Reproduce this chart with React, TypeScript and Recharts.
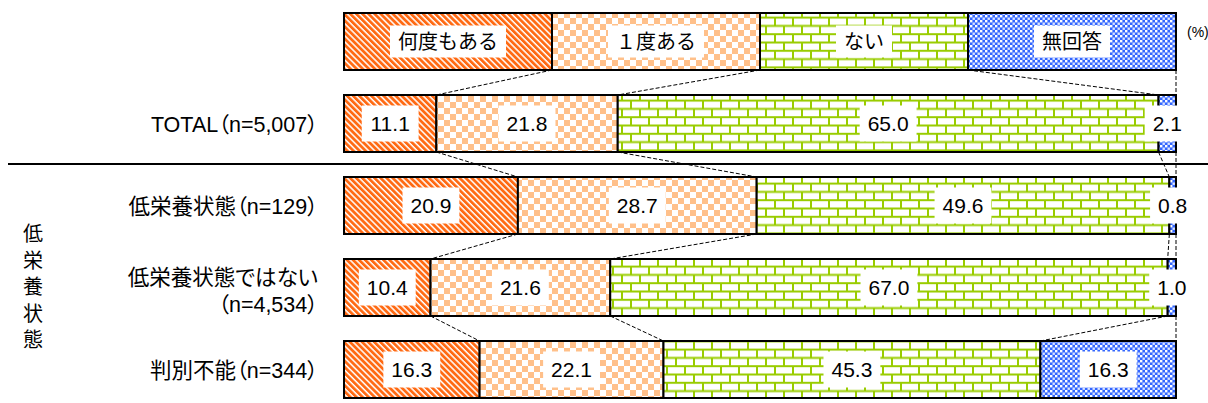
import { Bar, BarChart, LabelList, XAxis, YAxis } from 'recharts';

const seriesNames = ['何度もある', '１度ある', 'ない', '無回答'];
const rowLabels = [
  'TOTAL（n=5,007）',
  '低栄養状態（n=129）',
  '低栄養状態ではない\n（n=4,534）',
  '判別不能（n=344）',
];
const manyTimes = [11.1, 20.9, 10.4, 16.3];
const once = [21.8, 28.7, 21.6, 22.1];
const never = [65.0, 49.6, 67.0, 45.3];
const noAnswer = [2.1, 0.8, 1.0, 16.3];
const groupLabel = '低栄養状態';
const unitLabel = '(%)';

const KEYS = ['s0', 's1', 's2', 's3'];
const COLORS = ['#FF6A13', '#FFC08A', '#99CC00', '#3366FF'];
const FONT = "'Liberation Sans', 'Noto Sans CJK JP', sans-serif";

const W = 1208;
const H = 410;
const BAR = 57;

// top row is the legend drawn as an evenly split bar
const legendRow: any = { name: 'legend' };
KEYS.forEach((k) => (legendRow[k] = 100 / KEYS.length));

const data: any[] = [
  legendRow,
  ...rowLabels.map((name, i) => ({
    name,
    s0: manyTimes[i],
    s1: once[i],
    s2: never[i],
    s3: noAnswer[i],
  })),
];

const BAND = H / data.length;

const cum = (row: any, n: number) => KEYS.slice(0, n).reduce((s, k) => s + row[k], 0);

const textW = (s: string, fs: number) =>
  [...s].reduce((w, c) => {
    if (/[0-9]/.test(c)) return w + 0.556 * fs;
    if (c === '.' || c === ',') return w + 0.278 * fs;
    if (c.charCodeAt(0) < 128) return w + 0.6 * fs;
    return w + fs;
  }, 0);

const rowIndex = (props: any) => {
  const i = data.findIndex((d) => d.name === props?.payload?.name);
  return i >= 0 ? i : props.index;
};

const makeShape = (k: number) => (props: any) => {
  const { x, y, width, height } = props;
  const idx = rowIndex(props);
  const row = data[idx];
  const ppu = width / row[KEYS[k]];
  const x0 = x - cum(row, k) * ppu;
  let connector = null;
  if (idx < data.length - 1) {
    const next = data[idx + 1];
    connector = (
      <line
        x1={x + width}
        y1={y + height}
        x2={x0 + cum(next, k + 1) * ppu}
        y2={y + BAND}
        stroke="#000"
        strokeWidth={1}
        strokeDasharray="4 2"
      />
    );
  }
  return (
    <g>
      <rect x={x} y={y} width={width} height={height} fill={`url(#pat${k})`} stroke="#000" strokeWidth={2} />
      {connector}
    </g>
  );
};

const makeLabel = (k: number) => (p: any) => {
  const vb = p.viewBox || {};
  const x = Number(p.x ?? vb.x);
  const y = Number(p.y ?? vb.y);
  const width = Number(p.width ?? vb.width);
  const height = Number(p.height ?? vb.height);
  const idx = p.index;
  const isLegend = idx === 0;
  const text = isLegend ? seriesNames[k] : Number(data[idx][KEYS[k]]).toFixed(1);
  const fs = isLegend ? 20 : 21;
  const bw = textW(text, fs) + 16;
  const bh = isLegend ? 32 : 36;
  const cx = x + width / 2;
  const cy = y + height / 2;
  return (
    <g>
      <rect x={cx - bw / 2} y={cy - bh / 2} width={bw} height={bh} fill="#fff" />
      <text x={cx} y={cy} textAnchor="middle" dominantBaseline="central" fontSize={fs} fill="#000" fontFamily={FONT}>
        {text}
      </text>
    </g>
  );
};

const labelStyle = { fontFeatureSettings: '"palt"' };

const RowTick = (props: any) => {
  const { y, payload } = props;
  const name = payload.value;
  if (name === 'legend') {
    return (
      <text x={1187} y={y - 9} fontSize={14} fontFamily={FONT} dominantBaseline="central">
        {unitLabel}
      </text>
    );
  }
  const lines = String(name).split('\n');
  const first = name === rowLabels[1];
  return (
    <g>
      {lines.map((l, i) => (
        <text
          key={i}
          x={318}
          y={lines.length === 1 ? y + 2 : y - 9 + i * 27}
          textAnchor="end"
          dominantBaseline="central"
          fontSize={21.5}
          fontFamily={FONT}
          style={labelStyle}
        >
          {l}
        </text>
      ))}
      {first && <line x1={8} x2={W} y1={y - BAND / 2} y2={y - BAND / 2} stroke="#000" strokeWidth={2} />}
      {first &&
        [...groupLabel].map((c, i) => (
          <text
            key={c + i}
            x={33}
            y={y + BAND + (i - 2) * 26.5}
            textAnchor="middle"
            dominantBaseline="central"
            fontSize={20}
            fontFamily={FONT}
          >
            {c}
          </text>
        ))}
    </g>
  );
};

export default function App() {
  return (
    <div style={{ position: 'absolute', left: 0, top: 0, width: W, height: 403, overflow: 'hidden', background: '#fff' }}>
      <BarChart width={W} height={H} data={data} layout="vertical" margin={{ top: 0, right: 32, bottom: 0, left: 0 }} barSize={BAR}>
        <defs>
          <pattern id="pat0" patternUnits="userSpaceOnUse" width={4.3} height={4.3} patternTransform="rotate(-45)">
            <rect width={4.3} height={4.3} fill="#fff" />
            <rect width={2.8} height={4.3} fill={COLORS[0]} />
          </pattern>
          <pattern id="pat1" patternUnits="userSpaceOnUse" width={12} height={12}>
            <rect width={12} height={12} fill="#fff" />
            <rect width={6} height={6} fill={COLORS[1]} />
            <rect x={6} y={6} width={6} height={6} fill={COLORS[1]} />
          </pattern>
          <pattern id="pat2" patternUnits="userSpaceOnUse" width={18} height={16.6}>
            <rect width={18} height={16.6} fill="#fff" />
            <line x1={0} x2={18} y1={1} y2={1} stroke={COLORS[2]} strokeWidth={2} />
            <line x1={0} x2={18} y1={9.3} y2={9.3} stroke={COLORS[2]} strokeWidth={2} />
            <line x1={1} x2={1} y1={0} y2={9.3} stroke={COLORS[2]} strokeWidth={2} />
            <line x1={10} x2={10} y1={9.3} y2={16.6} stroke={COLORS[2]} strokeWidth={2} />
          </pattern>
          <pattern id="pat3" patternUnits="userSpaceOnUse" width={5} height={5}>
            <rect width={5} height={5} fill={COLORS[3]} />
            <rect width={2.4} height={2.4} fill="#fff" />
            <rect x={2.5} y={2.5} width={2.4} height={2.4} fill="#dde6ff" />
          </pattern>
        </defs>
        <XAxis type="number" domain={[0, 100]} hide />
        <YAxis type="category" dataKey="name" width={344} axisLine={false} tickLine={false} interval={0} tick={(p: any) => <RowTick {...p} />} />
        {KEYS.map((k, i) => (
          <Bar key={k} dataKey={k} stackId="a" isAnimationActive={false} shape={makeShape(i)}>
            <LabelList content={makeLabel(i)} />
          </Bar>
        ))}
      </BarChart>
    </div>
  );
}
